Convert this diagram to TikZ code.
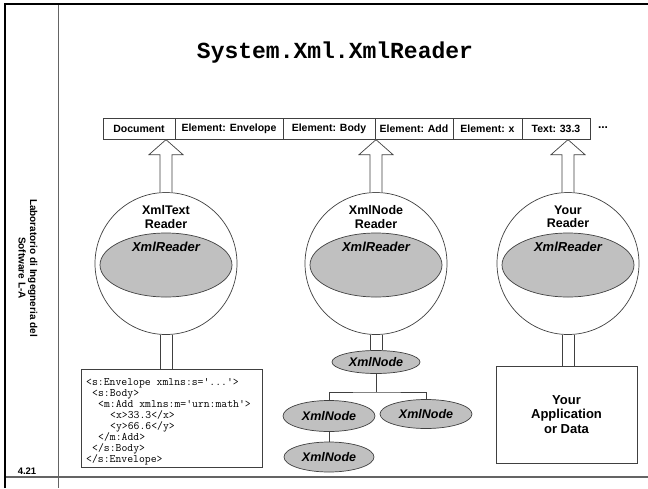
\documentclass[tikz,border=0pt]{standalone}
\usepackage{fontspec}
\setmainfont{Liberation Sans}
\newfontfamily\titlefont{Liberation Mono}
\usetikzlibrary{shapes.geometric}
\definecolor{shade}{RGB}{192,192,192}
\definecolor{edge}{RGB}{64,64,64}
\definecolor{rule}{RGB}{100,100,100}
\tikzset{
  cell/.style={draw=edge, line width=0.8pt, rectangle, minimum height=21pt, inner sep=0pt,
    font=\bfseries\fontsize{10.5}{12}\selectfont},
  ball/.style={draw=edge, line width=0.7pt, circle, minimum size=142pt, inner sep=0pt, fill=white},
  core/.style={draw=edge, line width=0.7pt, ellipse, fill=shade, minimum width=132pt, minimum height=64pt, inner sep=0pt},
  corelabel/.style={font=\bfseries\itshape\fontsize{13}{14}\selectfont},
  ballname/.style={align=center, font=\bfseries\fontsize{12.5}{13.5}\selectfont},
  treenode/.style={draw=edge, line width=0.7pt, ellipse, fill=shade, inner sep=0pt,
    font=\bfseries\itshape\fontsize{12.5}{14}\selectfont},
  pipe/.style={draw=edge, line width=0.7pt},
  blockarrow/.style={draw=edge, line width=0.7pt, fill=white, line join=miter},
  panel/.style={draw=edge, line width=0.8pt, rectangle, inner sep=0pt},
}
\begin{document}
\begin{tikzpicture}[x=1pt, y=-1pt]
\useasboundingbox (0,0) rectangle (648,488);

% slide frame
\draw[rule, line width=1.3pt] (5,477) -- (648,477);
\draw[rule, line width=1pt] (58,4) -- (58,488);
\draw[black, line width=2.5pt] (5,488) -- (5,4) -- (648,4);

% side captions
\node[rotate=-90, align=center, font=\bfseries\fontsize{10}{11.5}\selectfont] (course) at (28,268)
  {Laboratorio di Ingegneria del\\Software L-A};
\node[font=\bfseries\fontsize{9.5}{11}\selectfont] (page) at (27,471) {4.21};

% title
\node[font=\titlefont\bfseries\fontsize{23}{26}\selectfont] (title) at (335,53) {System.Xml.XmlReader};

% stream of reader tokens
\node[cell, minimum width=72pt]  (t1) at (139,129) {Document};
\node[cell, minimum width=108pt] (t2) at (229,129) {Element: Envelope};
\node[cell, minimum width=92pt]  (t3) at (329,129) {Element: Body};
\node[cell, minimum width=78pt]  (t4) at (414,129) {Element: Add};
\node[cell, minimum width=69pt]  (t5) at (487.5,129) {Element: x};
\node[cell, minimum width=68pt]  (t6) at (556,129) {Text: 33.3};
\node[font=\bfseries\fontsize{12}{12}\selectfont] (more) at (603,127.5) {...};

% the three readers
\node[ball] (c1) at (166,263.5) {};
\node[ball] (c2) at (376,263.5) {};
\node[ball] (c3) at (568,263.5) {};

\node[core] (e1) at (166,265) {};
\node[core] (e2) at (376,265) {};
\node[core] (e3) at (568,265) {};

\node[corelabel] (l1) at (166,247) {XmlReader};
\node[corelabel] (l2) at (376,247) {XmlReader};
\node[corelabel] (l3) at (568,247) {XmlReader};

\node[ballname] (n1) at (166,217) {XmlText\\Reader};
\node[ballname] (n2) at (376,217) {XmlNode\\Reader};
\node[ballname] (n3) at (568,217) {Your\\Reader};

% hollow arrows from each reader up to the token stream
\foreach \c in {c1,c2,c3}{
  \draw[blockarrow] ([xshift=-6pt]\c.north) -- ++(0,-37.5) -- ++(-11,0) -- ++(17,-15)
    -- ++(17,15) -- ++(-11,0) -- ++(0,37.5);
}

% XML source text
\node[panel, minimum width=181pt, minimum height=98pt] (src) at (171.5,418) {};
\node[anchor=north west, align=left, inner sep=0pt,
  font=\ttfamily\fontsize{11.4}{11}\selectfont] (code) at (86,378)
  {<s:Envelope xmlns:s='...'>\\
   \hspace*{6pt}<s:Body>\\
   \hspace*{12pt}<m:Add xmlns:m='urn:math'>\\
   \hspace*{24pt}<x>33.3</x>\\
   \hspace*{24pt}<y>66.6</y>\\
   \hspace*{12pt}</m:Add>\\
   \hspace*{6pt}</s:Body>\\
   </s:Envelope>};

% node tree
\node[treenode, minimum width=88pt, minimum height=23pt] (x0) at (376,362) {XmlNode};
\node[treenode, minimum width=92pt, minimum height=31pt] (x1) at (329,416) {XmlNode};
\node[treenode, minimum width=92pt, minimum height=29pt] (x2) at (426,414) {XmlNode};
\node[treenode, minimum width=90pt, minimum height=30pt] (x3) at (329,457) {XmlNode};
\coordinate (fork) at (376,392);
\draw[pipe] (x0) -- (fork);
\draw[pipe] (x1.north) |- (fork) -| (x2.north);
\draw[pipe] (x1) -- (x3);

% application box
\node[panel, minimum width=141pt, minimum height=97pt, align=center,
  font=\bfseries\fontsize{13}{14.5}\selectfont] (app) at (566.5,414.5)
  {Your\\Application\\or Data};

% pipes from the readers down to their sources
\foreach \c/\t in {c1/src, c2/x0, c3/app}{
  \draw[pipe] ([xshift=-6pt]\c.south) -- ([xshift=-6pt]\c.south |- \t.north);
  \draw[pipe] ([xshift=6pt]\c.south) -- ([xshift=6pt]\c.south |- \t.north);
}
\end{tikzpicture}
\end{document}
